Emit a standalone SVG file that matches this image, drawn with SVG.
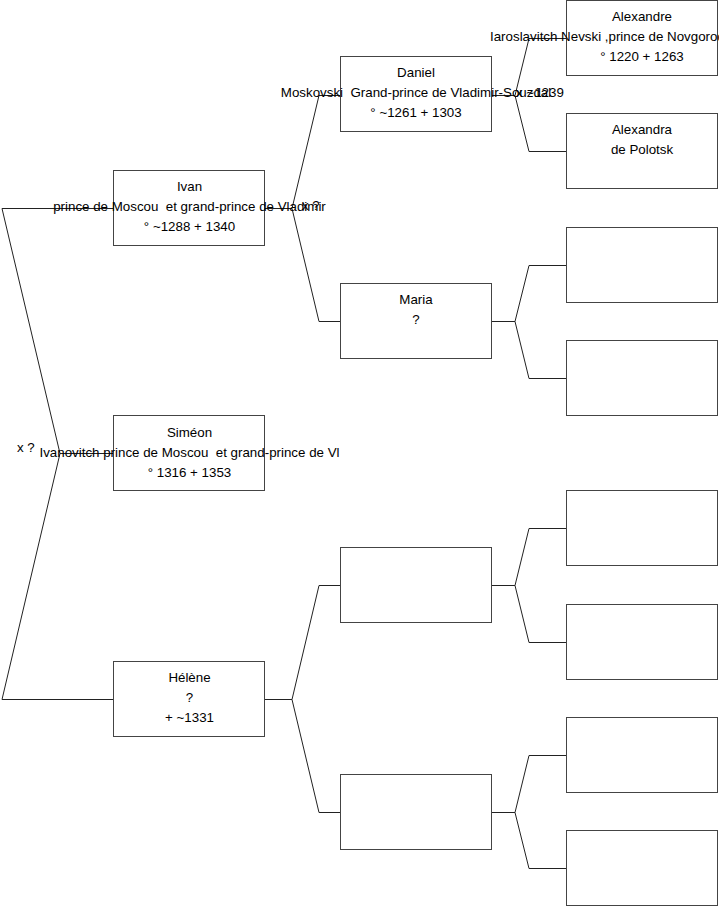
<svg xmlns="http://www.w3.org/2000/svg" width="719" height="908" viewBox="0 0 719 908">
<style>
.box{fill:#fff;stroke:#444;stroke-width:1}
.ln{fill:none;stroke:#222;stroke-width:1}
text{font-family:"Liberation Sans",Arial,sans-serif;font-size:13.33px;fill:#000;white-space:pre}
.c{text-anchor:middle}
</style>
<rect width="719" height="908" fill="#fff"/>
<g id="connectors">
<path class="ln" d="M113.5,453.5 H60 L2,208.5 H113.5 M60,453.5 L2,699.5 H113.5"/>
<path class="ln" d="M264.5,208.5 H292 L319,95.5 H340.5 M292,208.5 L319,321.5 H340.5"/>
<path class="ln" d="M264.5,699.5 H292 L319,585.5 H340.5 M292,699.5 L319,812.5 H340.5"/>
<path class="ln" d="M491.5,95.5 H515 L529,38.5 H566.5 M515,95.5 L529,151.5 H566.5"/>
<path class="ln" d="M491.5,321.5 H515 L529,265.5 H566.5 M515,321.5 L529,378.5 H566.5"/>
<path class="ln" d="M491.5,585.5 H515 L529,528.5 H566.5 M515,585.5 L529,642.5 H566.5"/>
<path class="ln" d="M491.5,812.5 H515 L529,755.5 H566.5 M515,812.5 L529,868.5 H566.5"/>
</g>
<g id="simeon">
<rect class="box" x="113.5" y="415.5" width="151" height="75"/>
<text class="c" x="189.5" y="437">Siméon</text>
<text class="c" x="189.5" y="457">Ivanovitch prince de Moscou  et grand-prince de Vl</text>
<text class="c" x="189.5" y="477">° 1316 + 1353</text>
<text x="17" y="452">x ?</text>
</g>
<g id="ivan">
<rect class="box" x="113.5" y="170.5" width="151" height="75"/>
<text class="c" x="189.5" y="191">Ivan</text>
<text class="c" x="189.5" y="211">prince de Moscou  et grand-prince de Vladimir</text>
<text class="c" x="189.5" y="231">° ~1288 + 1340</text>
<text x="302" y="210">x ?</text>
</g>
<g id="helene">
<rect class="box" x="113.5" y="661.5" width="151" height="75"/>
<text class="c" x="189.5" y="682">Hélène</text>
<text class="c" x="189.5" y="702">?</text>
<text class="c" x="189.5" y="722">+ ~1331</text>
</g>
<g id="daniel">
<rect class="box" x="340.5" y="56.5" width="151" height="75"/>
<text class="c" x="416" y="77">Daniel</text>
<text class="c" x="416" y="97">Moskovski  Grand-prince de Vladimir-Souzdal</text>
<text class="c" x="416" y="117">° ~1261 + 1303</text>
<text x="516" y="97">x ~1239</text>
</g>
<g id="maria">
<rect class="box" x="340.5" y="283.5" width="151" height="75"/>
<text class="c" x="416" y="304">Maria</text>
<text class="c" x="416" y="324">?</text>
</g>
<g id="helene-father">
<rect class="box" x="340.5" y="547.5" width="151" height="75"/>
</g>
<g id="helene-mother">
<rect class="box" x="340.5" y="774.5" width="151" height="75"/>
</g>
<g id="alexandre">
<rect class="box" x="566.5" y="0.5" width="151" height="75"/>
<text class="c" x="642" y="21">Alexandre</text>
<text x="490" y="41">Iaroslavitch Nevski ,prince de Novgorod</text>
<text class="c" x="642" y="61">° 1220 + 1263</text>
</g>
<g id="alexandra">
<rect class="box" x="566.5" y="113.5" width="151" height="75"/>
<text class="c" x="642" y="134">Alexandra</text>
<text class="c" x="642" y="154">de Polotsk</text>
</g>
<g id="maria-father">
<rect class="box" x="566.5" y="227.5" width="151" height="75"/>
</g>
<g id="maria-mother">
<rect class="box" x="566.5" y="340.5" width="151" height="75"/>
</g>
<g id="hf-father">
<rect class="box" x="566.5" y="490.5" width="151" height="75"/>
</g>
<g id="hf-mother">
<rect class="box" x="566.5" y="604.5" width="151" height="75"/>
</g>
<g id="hm-father">
<rect class="box" x="566.5" y="717.5" width="151" height="75"/>
</g>
<g id="hm-mother">
<rect class="box" x="566.5" y="830.5" width="151" height="75"/>
</g>
</svg>
